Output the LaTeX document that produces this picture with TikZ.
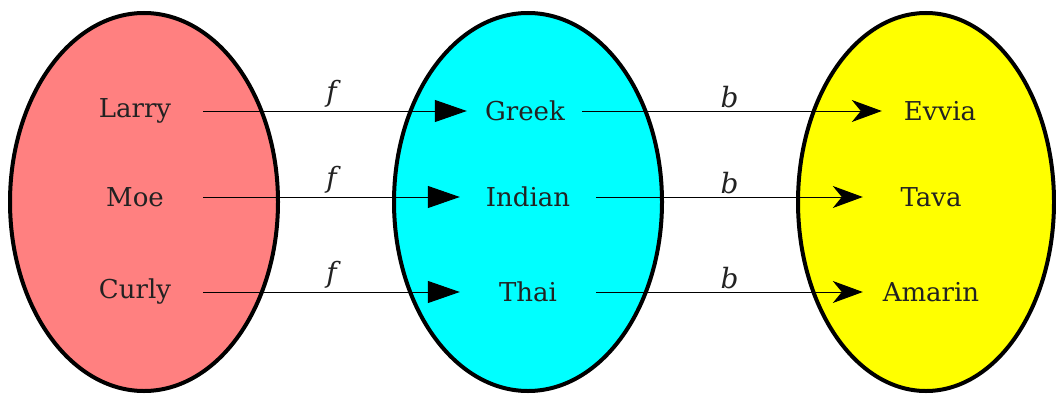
\documentclass[tikz,border=0pt]{standalone}
\usepackage{fontspec}
\setmainfont{DejaVu Serif}
\usetikzlibrary{arrows.meta}
\definecolor{setred}{HTML}{FF8080}
\definecolor{setcyan}{HTML}{00FFFF}
\definecolor{setyellow}{HTML}{FFFF00}
\definecolor{txt}{HTML}{222222}
\begin{document}
\begin{tikzpicture}[x=1pt,y=-1pt,
  setshape/.style={draw=black,line width=4pt},
  item/.style={inner sep=0pt,minimum width=136pt,minimum height=30pt,text=txt,font=\fontsize{26}{30}\selectfont},
  lab/.style={midway,above,inner sep=3pt,text=txt,font=\fontsize{28}{32}\selectfont\itshape},
  farrow/.style={line width=1pt,-{Triangle[length=32pt,width=22pt]}},
  barrow/.style={line width=1pt,-{Stealth[length=30pt,width=22pt,inset=9pt]}}]
\useasboundingbox (0,0) rectangle (1056,396);
\begin{scope}
\clip (0,0) rectangle (1056,396);
\fill[setred] (144,202) ellipse [x radius=134, y radius=189];
\draw[setshape] (144,202) ellipse [x radius=134, y radius=189];
\fill[setcyan] (528,202) ellipse [x radius=134, y radius=189];
\draw[setshape] (528,202) ellipse [x radius=134, y radius=189];
\fill[setyellow] (926,202) ellipse [x radius=128, y radius=189];
\draw[setshape] (926,202) ellipse [x radius=128, y radius=189];
\end{scope}
\node[item] (larry) at (135,111) {Larry};
\node[item] (moe) at (135,197) {Moe};
\node[item] (curly) at (135,292) {Curly};
\node[item] (greek) at (528,111) {\hspace*{-6pt}Greek};
\node[item] (indian) at (528,197) {Indian};
\node[item] (thai) at (528,292) {Thai};
\node[item] (evvia) at (931,111) {\hspace*{18pt}Evvia};
\node[item] (tava) at (931,197) {Tava};
\node[item] (amarin) at (931,292) {Amarin};
\draw[farrow,shorten >=-7pt] (larry.east) -- (greek.west) node[lab] {f};
\draw[farrow] (moe.east) -- (indian.west) node[lab] {f};
\draw[farrow] (curly.east) -- (thai.west) node[lab] {f};
\draw[barrow,shorten <=-14pt,shorten >=-19pt] (greek.east) -- (evvia.west) node[lab] {b};
\draw[barrow] (indian.east) -- (tava.west) node[lab] {b};
\draw[barrow] (thai.east) -- (amarin.west) node[lab] {b};
\end{tikzpicture}
\end{document}
